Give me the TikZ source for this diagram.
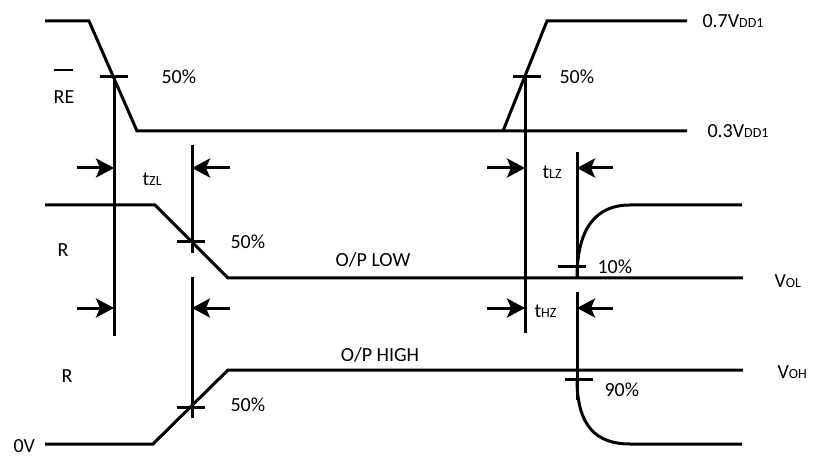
\documentclass[tikz,border=0pt]{standalone}
\usepackage{fontspec}
\setmainfont{Carlito}
\usetikzlibrary{arrows.meta}
\newcommand{\smallsub}[1]{{\fontsize{14}{14}\selectfont #1}}

\begin{document}
\begin{tikzpicture}[x=1pt, y=-1pt, line width=3pt, >={Stealth[length=18pt,width=19pt,inset=4pt]}, every node/.style={font=\fontsize{20}{24}\selectfont,inner sep=0pt}, lbl/.style={anchor=west}]
\useasboundingbox (0,0) rectangle (817,457);
% input
\draw (45,21) -- (89,21) -- (137,131) -- (687,131);
\draw (503,131) -- (547,21) -- (687,21);
\node[lbl] (hi) at (701,21) {0.7V\smallsub{DD1}};
\node[lbl] (lo) at (706,131) {0.3V\smallsub{DD1}};
\node (re) at (64,97) {RE};
\draw[line width=2pt] (54,70) -- (73,70);
\node[lbl] (pa) at (160,77) {50\%};
\node[lbl] (pb) at (558,77) {50\%};
% outputs
\draw (45,205) -- (155,205) -- (228,278) -- (743,278);
\draw (45,444) -- (153,444) -- (228,370) -- (743,370);
\draw (577,278) .. controls (577,228) and (596,205) .. (630,205) -- (742,205);
\draw (577,379) .. controls (577,426) and (596,444) .. (630,444) -- (742,444);
\node (ra) at (63,250) {R};
\node (rb) at (67,376) {R};
\node[lbl] (zero) at (12,446) {0V};
\node[lbl] (pc) at (229,242) {50\%};
\node[lbl] (pd) at (229,405) {50\%};
\node (oplow) at (373,260) {O/P LOW};
\node (ophigh) at (380,355) {O/P HIGH};
\node[lbl] (pe) at (596,267) {10\%};
\node[lbl] (pf) at (603,390) {90\%};
\node[lbl] (vol) at (773,281) {V\smallsub{OL}};
\node[lbl] (voh) at (776,372) {V\smallsub{OH}};
% markers
\draw (114,77) -- (114,336);
\draw (192,145) -- (192,253) (192,277) -- (192,418);
\draw (525,77) -- (525,333);
\draw (577,152) -- (577,278) (577,292) -- (577,400);
\foreach \x/\y in {114/77,527/77,191/242,191/407,572/267,579/379}
  \draw (\x-14,\y) -- (\x+14,\y);
\foreach \y in {168,308} {
  \draw[->] (77,\y) -- (114,\y);
  \draw[->] (230,\y) -- (192,\y);
  \draw[->] (487,\y) -- (525,\y);
  \draw[->] (613,\y) -- (577,\y);
}
\node[lbl] (tzl) at (141,179) {t\smallsub{ZL}};
\node[lbl] (tlz) at (541,172) {t\smallsub{LZ}};
\node[lbl] (thz) at (533,311) {t\smallsub{HZ}};
\end{tikzpicture}
\end{document}
